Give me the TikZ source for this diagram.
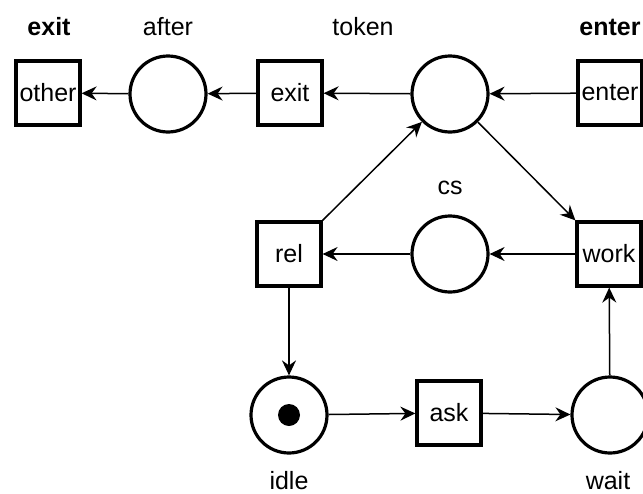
\documentclass[tikz,border=0pt]{standalone}
\usepackage{fontspec}
\setmainfont{Liberation Sans}
\usetikzlibrary{arrows.meta}

\tikzset{
  place/.style={draw, circle, line width=1.6pt, minimum size=38pt, inner sep=0pt},
  trans/.style={draw, rectangle, line width=1.6pt, minimum size=32pt, inner sep=0pt},
  arc/.style={-{Stealth[length=7.5pt,width=7pt,inset=2.5pt]}, line width=0.75pt},
  plabel/.style={inner sep=0pt},
}

\begin{document}
\begin{tikzpicture}[x=0.5pt, y=-0.5pt, font=\fontsize{12.5}{14}\selectfont]
  \useasboundingbox (0,0) rectangle (643,493);

  % places
  \node[place] (after) at (168,94) {};
  \node[place] (token) at (450,94) {};
  \node[place] (cs)    at (450,254) {};
  \node[place] (idle)  at (289,415) {};
  \node[place] (wait)  at (610,415) {};
  \fill (idle.center) circle [radius=5.5pt];

  % transitions
  \node[trans] (other) at (48,93)   {other};
  \node[trans] (exit)  at (290,93)  {exit};
  \node[trans] (enter) at (610,93)  {enter};
  \node[trans] (rel)   at (289,254) {rel};
  \node[trans] (work)  at (609,254) {work};
  \node[trans] (ask)   at (449,413) {ask};

  % labels
  \node[plabel] (lexit)  at (49,27)  {\textbf{exit}};
  \node[plabel] (lafter) at (168,27) {after};
  \node[plabel] (ltoken) at (363,27) {token};
  \node[plabel] (lenter) at (610,27) {\textbf{enter}};
  \node[plabel] (lcs)    at (450,188) {cs};
  \node[plabel] (lidle)  at (289,481) {idle};
  \node[plabel] (lwait)  at (608,481) {wait};

  % arcs
  \draw[arc] (enter) -- (token);
  \draw[arc] (token) -- (exit);
  \draw[arc] (exit) -- (after);
  \draw[arc] (after) -- (other);
  \draw[arc] (token) -- (work.north west);
  \draw[arc] (rel.north east) -- (token);
  \draw[arc] (work) -- (cs);
  \draw[arc] (cs) -- (rel);
  \draw[arc] (rel) -- (idle);
  \draw[arc] (idle) -- (ask);
  \draw[arc] (ask) -- (wait);
  \draw[arc] (wait) -- (work);
\end{tikzpicture}
\end{document}
